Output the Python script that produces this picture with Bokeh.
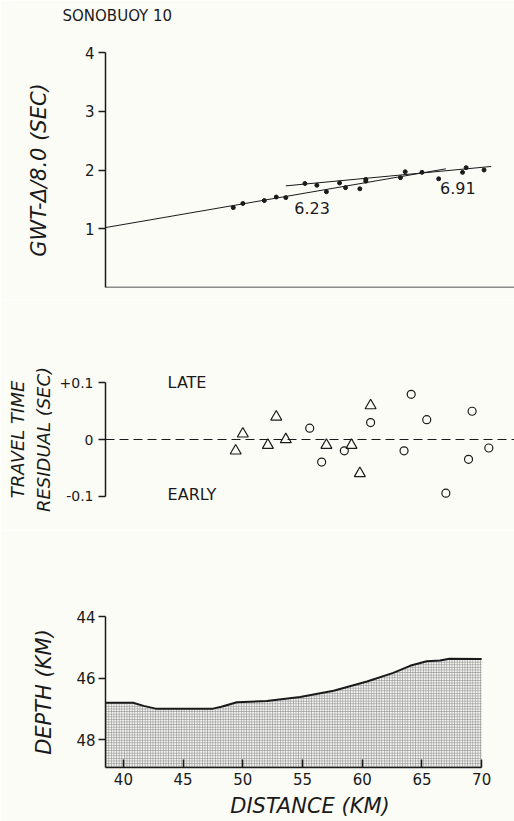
from bokeh.plotting import figure
from bokeh.layouts import column
from bokeh.models import Range1d, FixedTicker, Span, Label, Title
from bokeh.embed import file_html
from bokeh.resources import INLINE

# ---------------- data ----------------
# Panel 1: reduced travel times (GWT - distance/8.0)
gwt_dist = [49.2, 50.0, 51.8, 52.8, 53.6, 55.2, 56.2, 57.0, 58.1, 58.6,
            59.8, 60.3, 60.3, 63.2, 63.6, 65.0, 66.4, 68.4, 68.7, 70.2]
gwt_time = [1.36, 1.43, 1.48, 1.54, 1.53, 1.77, 1.74, 1.63, 1.78, 1.70,
            1.68, 1.84, 1.81, 1.87, 1.97, 1.96, 1.85, 1.96, 2.04, 2.00]
fit623_dist = [38.5, 67.0]
fit623_time = [1.02, 2.02]
fit691_dist = [53.6, 70.8]
fit691_time = [1.73, 2.06]
gwt_ticks = [1, 2, 3, 4]

# Panel 2: travel time residuals
tri_dist = [49.4, 50.0, 52.1, 52.8, 53.6, 57.0, 59.1, 59.8, 60.7]
tri_res = [-0.02, 0.01, -0.01, 0.04, 0.0, -0.01, -0.01, -0.06, 0.06]
circ_dist = [55.6, 56.6, 58.5, 60.7, 63.5, 64.1, 65.4, 67.0, 68.9, 69.2, 70.6]
circ_res = [0.02, -0.04, -0.02, 0.03, -0.02, 0.08, 0.035, -0.095, -0.035, 0.05, -0.015]
res_ticks = [-0.1, 0, 0.1]
res_tick_labels = ["-0.1", "0", "+0.1"]

# Panel 3: depth profile
depth_dist = [38.5, 40.8, 41.7, 42.7, 47.5, 48.2, 49.5, 52.0, 54.8, 57.6,
              60.4, 62.6, 64.0, 65.4, 66.5, 67.3, 70.0]
depth_km = [46.80, 46.80, 46.90, 46.99, 46.99, 46.93, 46.78, 46.74, 46.61, 46.41,
            46.11, 45.83, 45.60, 45.45, 45.43, 45.37, 45.38]
depth_floor = 48.9
depth_ticks = [44, 46, 48]
dist_ticks = [40, 45, 50, 55, 60, 65, 70]
dist_min, dist_max_axis, dist_max_view = 38.5, 70.0, 72.75

# ---------------- style ----------------
BG = "#fcfcf7"
INK = "#1a1a1a"
FONT = "DejaVu Sans"


def style_axis(ax, ticks, label, standoff, label_standoff=4, tick_out=7, tick_in=0,
               label_size="21px", tick_size="15px"):
    ax.ticker = FixedTicker(ticks=ticks)
    ax.minor_tick_line_color = None
    ax.major_tick_out = tick_out
    ax.major_tick_in = tick_in
    ax.major_tick_line_width = 1.5
    ax.major_tick_line_color = INK
    ax.axis_line_width = 1.5
    ax.axis_line_color = INK
    ax.major_label_text_font = FONT
    ax.major_label_text_font_size = tick_size
    ax.major_label_text_color = INK
    ax.major_label_standoff = label_standoff
    ax.axis_label = label
    ax.axis_label_text_font = FONT
    ax.axis_label_text_font_size = label_size
    ax.axis_label_text_font_style = "italic"
    ax.axis_label_text_color = INK
    ax.axis_label_standoff = standoff


def base_fig(**kw):
    p = figure(output_backend="svg", toolbar_location=None,
               background_fill_color=BG, border_fill_color=BG,
               outline_line_color=None, width=514,
               x_range=Range1d(dist_min, dist_max_view),
               min_border_left=105, min_border_right=0, **kw)
    p.grid.visible = False
    return p


# ---------------- panel 1 ----------------
p1 = base_fig(height=300, y_range=Range1d(0, 4),
              min_border_top=52, min_border_bottom=13, x_axis_location=None)
style_axis(p1.yaxis[0], gwt_ticks, "GWT-\u0394/8.0 (SEC)", standoff=31)
p1.add_layout(Span(location=0, dimension="width", line_color=INK, line_width=1.5))
p1.line(fit623_dist, fit623_time, line_color=INK, line_width=1)
p1.line(fit691_dist, fit691_time, line_color=INK, line_width=1)
p1.scatter(gwt_dist, gwt_time, size=4, color=INK)
for txt, x, y in [("6.23", 55.8, 1.36), ("6.91", 68.0, 1.70)]:
    p1.add_layout(Label(x=x, y=y, text=txt, text_align="center", text_baseline="middle",
                        text_font=FONT, text_font_size="16px", text_color=INK))
# spacer between frame and the panel title (first "above" item sits nearest the frame)
p1.add_layout(Title(text=" ", text_font_size="1px", standoff=21), "above")
p1.add_layout(Title(text="SONOBUOY 10", align="left", vertical_align="middle", offset=-43,
                    standoff=6, text_font=FONT, text_font_size="15px",
                    text_font_style="normal", text_color=INK), "above")

# ---------------- panel 2 ----------------
p2 = base_fig(height=230, y_range=Range1d(-0.115, 0.115),
              min_border_top=74, min_border_bottom=26, x_axis_location=None)
ax2 = p2.yaxis[0]
style_axis(ax2, res_ticks, "TRAVEL TIME\nRESIDUAL (SEC)", standoff=3, label_standoff=5,
           label_size="18px", tick_size="14px")
ax2.bounds = (res_ticks[0], res_ticks[-1])
ax2.major_label_overrides = dict(zip(res_ticks, res_tick_labels))
p2.add_layout(Span(location=0, dimension="width", line_color=INK, line_width=1,
                   line_dash="9 5"))
p2.scatter(tri_dist, tri_res, marker="triangle", size=11, fill_color=None,
           line_color=INK, line_width=1.2)
p2.scatter(circ_dist, circ_res, marker="circle", size=8, fill_color=None,
           line_color=INK, line_width=1.2)
p2.add_layout(Label(x=43.7, y=0.1, text="LATE", text_align="left", text_baseline="middle",
                    text_font=FONT, text_font_size="16px", text_color=INK))
p2.add_layout(Label(x=43.7, y=-0.097, text="EARLY", text_align="left", text_baseline="middle",
                    text_font=FONT, text_font_size="16px", text_color=INK))

# ---------------- panel 3 ----------------
p3 = base_fig(height=291, y_range=Range1d(depth_floor, 44),
              min_border_top=86, min_border_bottom=54)
style_axis(p3.yaxis[0], depth_ticks, "DEPTH (KM)", standoff=17, label_standoff=3, tick_out=7)
style_axis(p3.xaxis[0], dist_ticks, "DISTANCE (KM)", standoff=6, label_standoff=5,
           tick_out=0, tick_in=8)
p3.xaxis[0].bounds = (dist_min, dist_max_axis)
p3.varea(x=depth_dist, y1=depth_km, y2=depth_floor, fill_color="#f4f4f0",
         hatch_pattern="cross", hatch_scale=2.6, hatch_color="#8f8f8f", hatch_weight=0.7)
p3.line(depth_dist, depth_km, line_color=INK, line_width=2)

layout = column(p1, p2, p3)
open("out.html", "w").write(file_html(layout, INLINE))
